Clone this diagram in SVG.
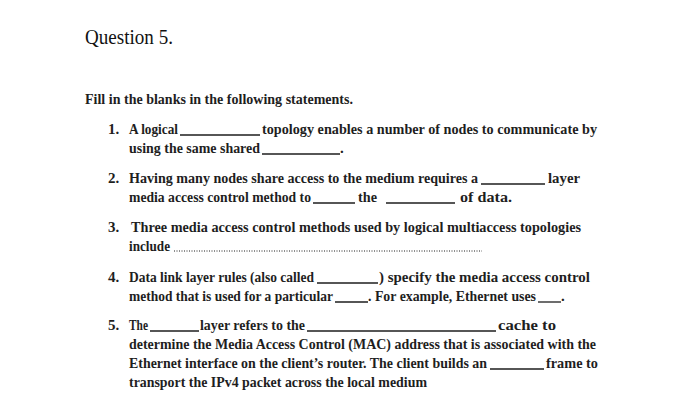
<svg xmlns="http://www.w3.org/2000/svg" width="700" height="418" viewBox="0 0 700 418">
<style>
text{font-family:"Liberation Serif","DejaVu Serif",serif;font-size:15px;font-weight:bold;fill:#1e1e1e}
.t{font-size:20px;font-weight:normal;fill:#111}
line{stroke:#1e1e1e;stroke-width:1.3}
.d{stroke-dasharray:1 1.5;stroke-width:1}
</style>
<rect width="700" height="418" fill="#fff"/>
<text class="t" x="85" y="44" textLength="88" lengthAdjust="spacingAndGlyphs">Question 5.</text>
<text x="85" y="104" textLength="268" lengthAdjust="spacingAndGlyphs">Fill in the blanks in the following statements.</text>
<g id="q1">
<text x="108" y="134">1.</text>
<text x="129" y="134" textLength="49" lengthAdjust="spacingAndGlyphs">A logical</text>
<line x1="180" y1="135" x2="260" y2="135"/>
<text x="262" y="134" textLength="335" lengthAdjust="spacingAndGlyphs">topology enables a number of nodes to communicate by</text>
<text x="129" y="153" textLength="131" lengthAdjust="spacingAndGlyphs">using the same shared</text>
<line x1="262" y1="154" x2="340" y2="154"/>
<text x="340" y="153">.</text>
</g>
<g id="q2">
<text x="108" y="183">2.</text>
<text x="129" y="183" textLength="349" lengthAdjust="spacingAndGlyphs">Having many nodes share access to the medium requires a</text>
<line x1="481" y1="184" x2="545" y2="184"/>
<text x="548" y="183" textLength="32" lengthAdjust="spacingAndGlyphs">layer</text>
<text x="129" y="202" textLength="182" lengthAdjust="spacingAndGlyphs">media access control method to</text>
<line x1="313" y1="203" x2="355" y2="203"/>
<text x="358" y="202" textLength="19" lengthAdjust="spacingAndGlyphs">the</text>
<line x1="386" y1="203" x2="455" y2="203"/>
<text x="460" y="202" textLength="52" lengthAdjust="spacingAndGlyphs">of data.</text>
</g>
<g id="q3">
<text x="108" y="232">3.</text>
<text x="131" y="232" textLength="450" lengthAdjust="spacingAndGlyphs">Three media access control methods used by logical multiaccess topologies</text>
<text x="129" y="251" textLength="41" lengthAdjust="spacingAndGlyphs">include</text>
<line class="d" x1="174" y1="251" x2="482" y2="251"/>
</g>
<g id="q4">
<text x="108" y="282">4.</text>
<text x="129" y="282" textLength="185" lengthAdjust="spacingAndGlyphs">Data link layer rules (also called</text>
<line x1="317" y1="283" x2="378" y2="283"/>
<text x="379" y="282" textLength="211" lengthAdjust="spacingAndGlyphs">) specify the media access control</text>
<text x="129" y="301" textLength="204" lengthAdjust="spacingAndGlyphs">method that is used for a particular</text>
<line x1="335" y1="302" x2="368" y2="302"/>
<text x="368" y="301" textLength="168" lengthAdjust="spacingAndGlyphs">. For example, Ethernet uses</text>
<line x1="538" y1="302" x2="561" y2="302"/>
<text x="561" y="301">.</text>
</g>
<g id="q5">
<text x="108" y="330">5.</text>
<text x="129" y="330" textLength="19" lengthAdjust="spacingAndGlyphs">The</text>
<line x1="150" y1="331" x2="199" y2="331"/>
<text x="200" y="330" textLength="105" lengthAdjust="spacingAndGlyphs">layer refers to the</text>
<line x1="307" y1="331" x2="496" y2="331"/>
<text x="498" y="330" textLength="58" lengthAdjust="spacingAndGlyphs">cache to</text>
<text x="129" y="349" textLength="467" lengthAdjust="spacingAndGlyphs">determine the Media Access Control (MAC) address that is associated with the</text>
<text x="129" y="368" textLength="358" lengthAdjust="spacingAndGlyphs">Ethernet interface on the client’s router. The client builds an</text>
<line x1="490" y1="369" x2="544" y2="369"/>
<text x="546" y="368" textLength="52" lengthAdjust="spacingAndGlyphs">frame to</text>
<text x="129" y="387" textLength="298" lengthAdjust="spacingAndGlyphs">transport the IPv4 packet across the local medium</text>
</g>
</svg>
